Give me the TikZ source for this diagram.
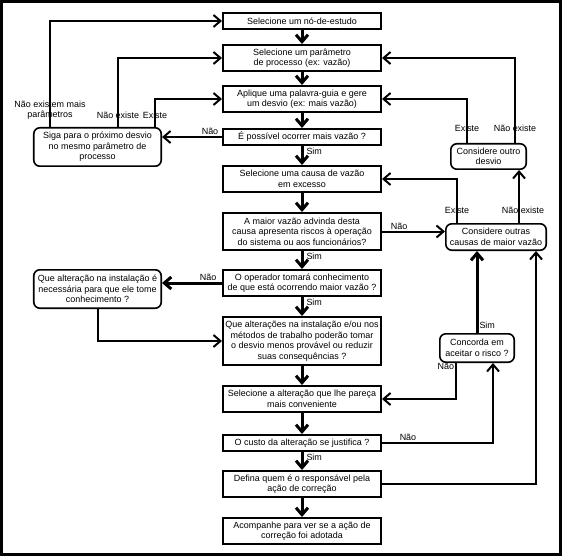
\documentclass[tikz,border=0pt]{standalone}
\usepackage{fontspec}
\setmainfont{Liberation Sans}
\usetikzlibrary{arrows.meta,positioning,calc}
\tikzset{
  passo/.style={draw, line width=1.6bp, align=center, minimum width=158.4bp,
                minimum height=16.4bp, inner sep=2bp, font=\fontsize{9}{10.5}\selectfont},
  duas/.style={minimum height=26.4bp},
  tres/.style={minimum height=37.4bp},
  quatro/.style={minimum height=48.4bp},
  desvio/.style={draw, line width=1.6bp, rounded corners=6bp, align=center,
                 inner sep=2bp, font=\fontsize{9}{10.5}\selectfont},
  rotulo/.style={font=\fontsize{9}{10.5}\selectfont, inner sep=1bp, align=center},
  seta/.style={-{Straight Barb[length=7bp,width=12bp]}, line width=3bp},
  retorno/.style={-{Straight Barb[length=7bp,width=12bp]}, line width=2bp}
}
\begin{document}
\begin{tikzpicture}[x=1bp, y=-1bp, node distance=18bp]
\useasboundingbox (0,0) rectangle (564,558);
\draw[line width=3bp] (1.5,2) rectangle (560.5,554.5);

% coluna principal
\node[passo] (b1) at (302,21) {Selecione um nó-de-estudo};
\node[passo, duas, below=14bp of b1] (b2) {Selecione um parâmetro\\de processo (ex: vazão)};
\node[passo, duas, below=13bp of b2] (b3) {Aplique uma palavra-guia e gere\\um desvio (ex: mais vazão)};
\node[passo, below=15bp of b3] (b4) {É possível ocorrer mais vazão ?};
\node[passo, duas, below=19bp of b4] (b5) {Selecione uma causa de vazão\\em excesso};
\node[passo, tres, below=19bp of b5] (b6) {A maior vazão advinda desta\\causa apresenta riscos à operação\\do sistema ou aos funcionários?};
\node[passo, duas, below=of b6] (b7) {O operador tomará conhecimento\\de que está ocorrendo maior vazão ?};
\node[passo, quatro, below=19bp of b7] (b8) {Que alterações na instalação e/ou nos\\métodos de trabalho poderão tomar\\o desvio menos provável ou reduzir\\suas consequências ?};
\node[passo, duas, below=19bp of b8] (b9) {Selecione a alteração que lhe pareça\\mais conveniente};
\node[passo, below=21bp of b9] (b10) {O custo da alteração se justifica ?};
\node[passo, duas, below=of b10] (b11) {Defina quem é o responsável pela\\ação de correção};
\node[passo, duas, below=19bp of b11] (b12) {Acompanhe para ver se a ação de\\correção foi adotada};

% caixas laterais
\node[desvio, minimum width=127.4bp, minimum height=38.4bp] (siga) at (97.5,147) {Siga para o próximo desvio\\no mesmo parâmetro de\\processo};
\node[desvio, minimum width=127.4bp, minimum height=38.4bp] (tome) at (97.5,289) {Que alteração na instalação é\\necessária para que ele tome\\conhecimento ?};
\node[desvio, minimum width=75.4bp, minimum height=25.4bp] (outro) at (488.5,156.5) {Considere outro\\desvio};
\node[desvio, minimum width=100.4bp, minimum height=26.4bp] (outras) at (496,237) {Considere outras\\causas de maior vazão};
\node[desvio, minimum width=74.4bp, minimum height=28.4bp] (aceita) at (477,348) {Concorda em\\aceitar o risco ?};

\foreach \a/\b in {b1/b2,b2/b3,b3/b4,b5/b6,b8/b9,b9/b10,b11/b12}
  \draw[seta] (\a) -- (\b);
\foreach \a/\b in {b4/b5,b6/b7,b7/b8,b10/b11}
  \draw[seta] (\a) -- node[rotulo, right, pos=0.3, xshift=2bp] {Sim} (\b);

% desvios a esquerda
\draw[retorno] (b4.west) -- node[rotulo, above, pos=0.2] {Não} (b4.west -| siga.east);
\draw[retorno] ([xshift=-47.5bp]siga.north) |- node[rotulo, pos=0.08] {Não existem mais\\parâmetros} (b1.west);
\draw[retorno] ([xshift=20.5bp]siga.north) |- node[rotulo, pos=0.087] {Não existe} (b2.west);
\draw[retorno] ([xshift=57.5bp]siga.north) |- node[rotulo, pos=0.21] {Existe} (b3.west);
\draw[seta] (b7.west) -- node[rotulo, above, pos=0.23] {Não} (b7.west -| tome.east);
\draw[retorno] (tome.south) |- (b8.west);

% desvios a direita
\draw[retorno] ([xshift=-21.5bp]outro.north) |- node[rotulo, pos=0.17] {Existe} (b3.east);
\draw[retorno] ([xshift=26.5bp]outro.north) |- node[rotulo, pos=0.088] {Não existe} (b2.east);
\draw[retorno] ([xshift=-39bp]outras.north) |- node[rotulo, pos=0.15] {Existe} (b5.east);
\draw[retorno] ([xshift=23bp]outras.north) -- node[rotulo, pos=0.245, xshift=4bp] {Não existe} ([xshift=23bp]outras.north |- outro.south);
\draw[retorno] (b6.east) -- node[rotulo, above, pos=0.27] {Não} (b6.east -| outras.west);
\draw[seta] (aceita.north) -- node[rotulo, right, pos=0.1] {Sim} (aceita.north |- outras.south);
\draw[retorno] ([xshift=-21bp]aceita.south) |- node[rotulo, left, pos=0.05] {Não} (b9.east);
\draw[retorno] (b10.east) -| node[rotulo, above, pos=0.117] {Não} ([xshift=16bp]aceita.south);
\draw[retorno] (b11.east) -| ([xshift=40bp]outras.south);
\end{tikzpicture}
\end{document}
